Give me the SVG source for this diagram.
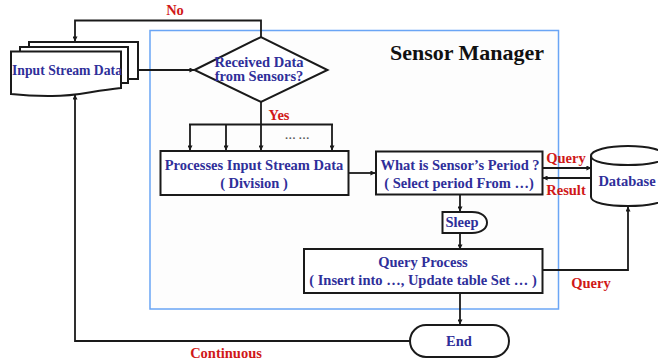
<svg xmlns="http://www.w3.org/2000/svg" width="658" height="363" viewBox="0 0 658 363">
<style>
text{font-family:"Liberation Serif","Times New Roman",serif;font-weight:bold;text-anchor:middle}
.n{font-size:14.500px;fill:#2f2f9a}
.r{font-size:14.500px;fill:#d01818}
.s{fill:#fff;stroke:#1a1a1a;stroke-width:2}
.c{fill:none;stroke:#1a1a1a;stroke-width:1.800;marker-end:url(#a)}
.l{fill:none;stroke:#1a1a1a;stroke-width:1.800}
</style>
<defs><marker id="a" viewBox="0 0 6 6" refX="5.500" refY="3" markerWidth="5" markerHeight="5" markerUnits="userSpaceOnUse" orient="auto"><path d="M0 0L6 3L0 6Z" fill="#1a1a1a"/></marker></defs>
<rect width="658" height="363" fill="#fff"/>
<rect id="sensor-manager" x="150" y="30.500" width="408.500" height="278.500" fill="#fdfdfd" stroke="#6aa5f5" stroke-width="1.500"/>
<text x="467" y="60" style="font-size:22px;fill:#111">Sensor Manager</text>
<g id="connectors">
<path class="c" d="M261 37V20.500H75V41"/>
<path class="c" d="M138 70H194"/>
<path class="l" d="M261 102V124"/>
<path class="l" d="M189 124.500H333"/>
<path class="c" d="M190 124V150"/><path class="c" d="M226 124V150"/><path class="c" d="M261 124V150"/><path class="c" d="M332 124V150"/>
<path class="c" d="M349 173H375"/>
<path class="c" d="M543 168H591"/>
<path class="c" d="M591 178H543"/>
<path class="c" d="M460 195V211"/>
<path class="c" d="M460 233V249"/>
<path class="c" d="M460 293V324"/>
<path class="c" d="M543 270H628V207"/>
<path class="c" d="M410 341H75V95"/>
</g>
<g id="input-stream-data">
<path class="s" d="M29 42H138V79H128V49H29Z"/>
<path class="s" d="M20 47H128V83H120V52H20Z"/>
<path class="s" d="M11 51.500H121V88C90 91 75 97 48 96C33 96 20 95 11 94Z"/>
<text class="n" x="67" y="75" style="font-size:13.700px">Input Stream Data</text>
</g>
<g id="decision">
<path class="s" d="M194.500 70L261 37L327.500 70L261 102Z"/>
<text class="n" x="259" y="67">Received Data</text>
<text class="n" x="259" y="81">from Sensors?</text>
</g>
<g id="processes">
<rect class="s" x="160.500" y="151" width="188" height="44"/>
<text class="n" x="254" y="170">Processes Input Stream Data</text>
<text class="n" x="254" y="188">( Division )</text>
</g>
<g id="period">
<rect class="s" x="376" y="151.500" width="166.500" height="43"/>
<text class="n" x="460" y="170">What is Sensor’s Period ?</text>
<text class="n" x="459" y="188">( Select period From …)</text>
</g>
<g id="database">
<path class="s" d="M591 156V197C591 203 608 206 628 206C648 206 665 203 665 197V156C665 150 648 146 628 146C608 146 591 150 591 156C591 162 608 165 628 165C648 165 665 162 665 156"/>
<text class="n" x="627" y="186">Database</text>
</g>
<g id="sleep">
<path class="s" d="M442.500 212H472C482 212 487 217 487 222.500C487 228 482 233 472 233H442.500Z"/>
<text class="n" x="462" y="227">Sleep</text>
</g>
<g id="query-process">
<rect class="s" x="304" y="249" width="238.500" height="44"/>
<text class="n" x="423" y="267">Query Process</text>
<text class="n" x="423" y="285">( Insert into …, Update table Set … )</text>
</g>
<g id="end">
<rect class="s" x="410" y="325" width="99" height="32" rx="16"/>
<text class="n" x="459" y="346">End</text>
</g>
<text class="r" x="175" y="15">No</text>
<text class="r" x="279" y="120">Yes</text>
<text x="297" y="139" style="font-size:11px;fill:#555">…  …</text>
<text class="r" x="566" y="163">Query</text>
<text class="r" x="566" y="195">Result</text>
<text class="r" x="591" y="288">Query</text>
<text class="r" x="226" y="358">Continuous</text>
</svg>
